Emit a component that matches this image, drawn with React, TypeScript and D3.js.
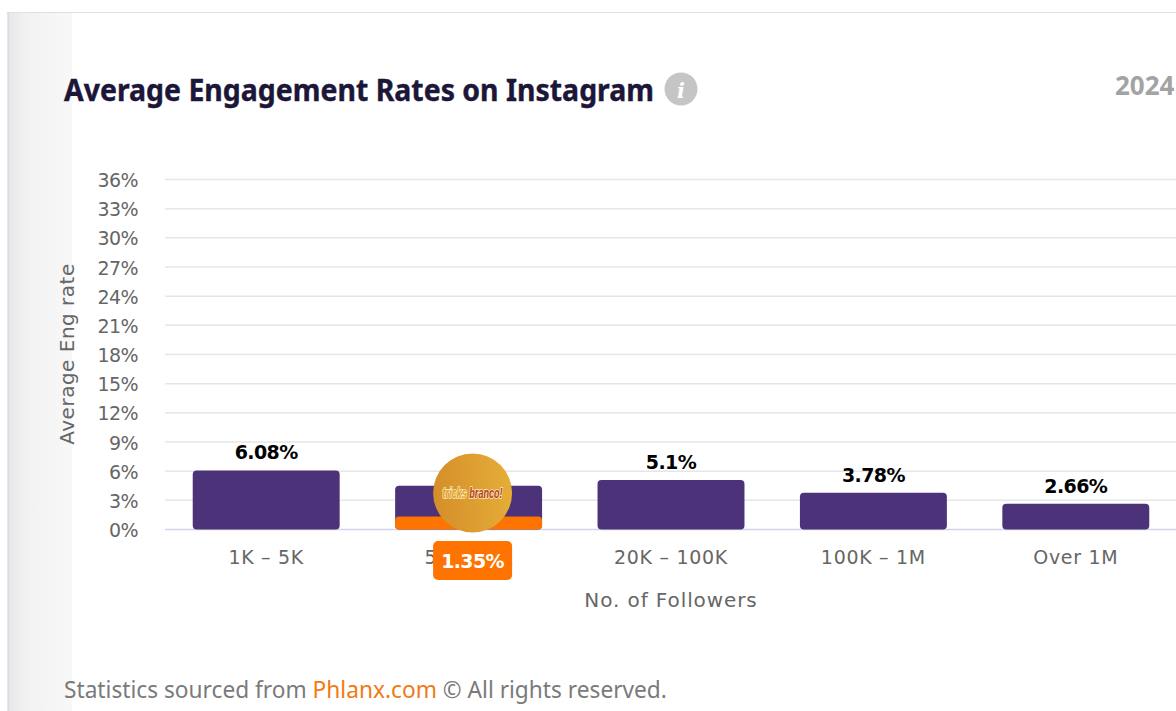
import React from "react";
import * as d3 from "d3";

const categories = ["1K – 5K", "5K – 20K", "20K – 100K", "100K – 1M", "Over 1M"];
const rates = [6.08, 4.5, 5.1, 3.78, 2.66];
const rateLabels = ["6.08%", "4.5%", "5.1%", "3.78%", "2.66%"];
const yTicks = [0, 3, 6, 9, 12, 15, 18, 21, 24, 27, 30, 33, 36];
const highlightCategory = "5K – 20K";
const highlightRate = 1.35;

const W = 1176;
const H = 711;
const x = d3.scaleBand<string>().domain(categories).range([165, 1177]).paddingInner(0.274).paddingOuter(0.137);
const y = d3.scaleLinear().domain([0, 36]).range([529.5, 179.5]);

const tickFont = "'DejaVu Sans', sans-serif";
const textFont = "'Noto Sans', sans-serif";

export default function App() {
  const bw = x.bandwidth();
  const hx = x(highlightCategory)! + bw / 2 + 4;
  return (
    <svg
      width={W}
      height={H}
      viewBox={`0 0 ${W} ${H}`}
      style={{ position: "fixed", left: 0, top: 0, display: "block", background: "#fff" }}
    >
      <defs>
        <linearGradient id="sideFade" x1="0" x2="1" y1="0" y2="0">
          <stop offset="0" stopColor="#e6e7ea" />
          <stop offset="0.3" stopColor="#f2f2f3" />
          <stop offset="1" stopColor="#f8f8f8" />
        </linearGradient>
        <linearGradient id="badge" x1="0" x2="1" y1="0.3" y2="0.2">
          <stop offset="0" stopColor="#d58f2a" />
          <stop offset="1" stopColor="#e5ae38" />
        </linearGradient>
      </defs>

      {/* Page frame and faded left edge */}
      <rect x={8} y={12} width={64} height={H - 12} fill="url(#sideFade)" />
      <line x1={7} x2={W} y1={12.5} y2={12.5} stroke="#dfe0e4" />
      <line x1={8} x2={8} y1={12} y2={H} stroke="#cfd0d4" />

      <text
        x={64}
        y={101}
        fontFamily={textFont}
        fontWeight={700}
        fontSize={30}
        fill="#1c1639"
        stroke="#1c1639"
        strokeWidth={0.4}
        textLength={590}
        lengthAdjust="spacingAndGlyphs"
      >
        Average Engagement Rates on Instagram
      </text>
      <circle cx={681} cy={89} r={16.5} fill="#c5c5c5" />
      <text
        x={681}
        y={98}
        textAnchor="middle"
        fontFamily="'DejaVu Serif', serif"
        fontStyle="italic"
        fontWeight={700}
        fontSize={21}
        fill="#fff"
      >
        i
      </text>
      <text x={1115} y={95} fontFamily={textFont} fontWeight={700} fontSize={26} fill="#a3a3a3">
        2024
      </text>

      {/* Horizontal grid and y tick labels */}
      {yTicks.map((t) => (
        <g key={t}>
          <line x1={165} x2={W} y1={y(t)} y2={y(t)} stroke={t === 0 ? "#d3d3ea" : "#e6e6e6"} strokeWidth={1.5} />
          <text x={138} y={y(t) + 7.5} textAnchor="end" fontFamily={tickFont} fontSize={19} letterSpacing={-0.6} fill="#666">
            {t}%
          </text>
        </g>
      ))}
      <text
        transform="translate(74,354) rotate(-90)"
        textAnchor="middle"
        fontFamily={tickFont}
        fontSize={20}
        letterSpacing={0.5}
        fill="#666"
      >
        Average Eng rate
      </text>

      {/* Bars with value labels */}
      {categories.map((c, i) => (
        <g key={c}>
          <rect x={x(c)!} y={y(rates[i])} width={bw} height={y(0) - y(rates[i])} rx={4} fill="#4b3279" />
          <text
            x={x(c)! + bw / 2}
            y={y(rates[i]) - 11}
            textAnchor="middle"
            fontFamily={tickFont}
            fontWeight={700}
            fontSize={19}
            letterSpacing={-0.6}
            fill="#000"
          >
            {rateLabels[i]}
          </text>
          <text
            x={x(c)! + bw / 2}
            y={564}
            textAnchor="middle"
            fontFamily={tickFont}
            fontSize={19}
            letterSpacing={0.7}
            fill="#666"
          >
            {c}
          </text>
        </g>
      ))}
      <rect
        x={x(highlightCategory)!}
        y={y(highlightRate)}
        width={bw}
        height={y(0) - y(highlightRate)}
        rx={4}
        fill="#ff7300"
      />

      <text x={671} y={607} textAnchor="middle" fontFamily={tickFont} fontSize={20} letterSpacing={0.9} fill="#666">
        No. of Followers
      </text>

      {/* Highlighted account marker */}
      <circle cx={hx} cy={493} r={39.5} fill="url(#badge)" />
      <text
        x={hx - 30}
        y={498}
        fontFamily="'Liberation Sans', sans-serif"
        fontStyle="italic"
        fontWeight={700}
        fontSize={14}
        textLength={60}
        lengthAdjust="spacingAndGlyphs"
        stroke="#fbf0c8"
        strokeWidth={1.6}
        paintOrder="stroke"
      >
        <tspan fill="#e0a020">tricks </tspan>
        <tspan fill="#b8401a">branco!</tspan>
      </text>
      <rect x={hx - 39.5} y={541} width={79} height={39} rx={5} fill="#ff7300" />
      <text x={hx} y={568} textAnchor="middle" fontFamily={tickFont} fontWeight={700} fontSize={19} letterSpacing={-0.6} fill="#fff">
        {highlightRate}%
      </text>

      <text x={64} y={698} fontFamily={textFont} fontSize={22.7} fill="#7a7a7a">
        Statistics sourced from <tspan fill="#f07a14">Phlanx.com</tspan> © All rights reserved.
      </text>
    </svg>
  );
}
